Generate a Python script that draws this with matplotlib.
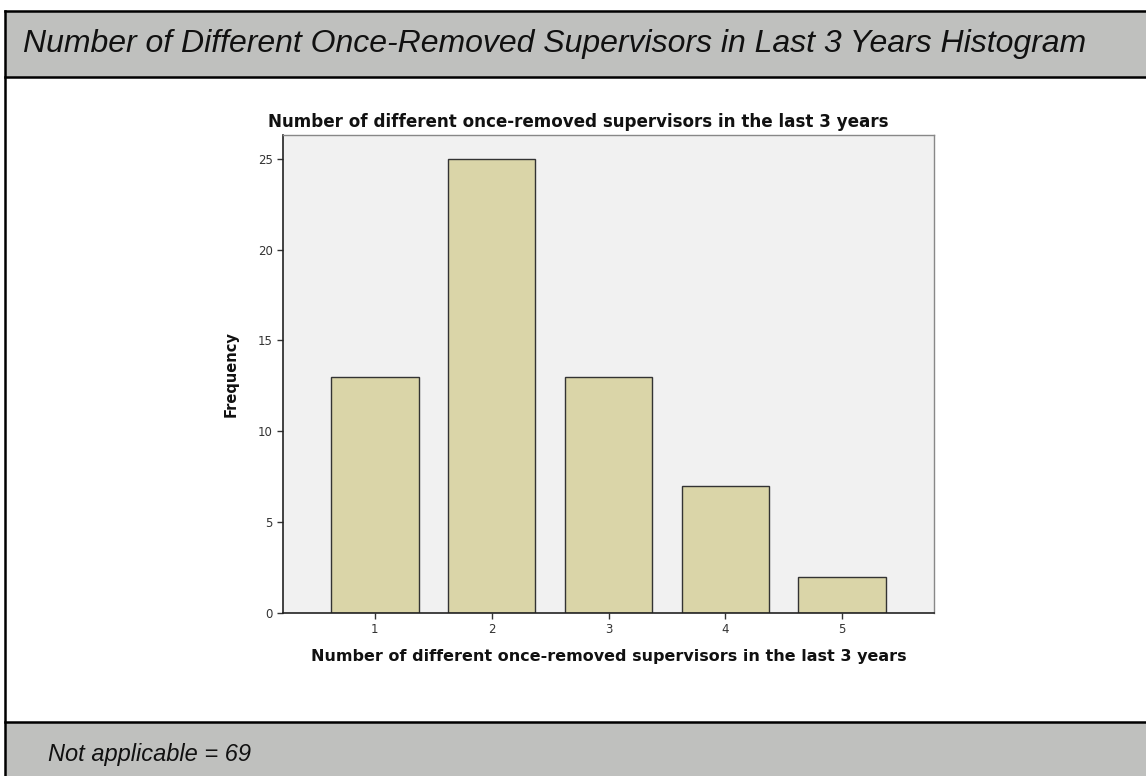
import matplotlib
matplotlib.use("Agg")
import matplotlib.pyplot as plt
from matplotlib.patches import Rectangle
from matplotlib.lines import Line2D

categories = [1, 2, 3, 4, 5]
frequencies = [13, 25, 13, 7, 2]
yticks = [0, 5, 10, 15, 20, 25]

header = "Number of Different Once-Removed Supervisors in Last 3 Years Histogram"
chart_title = "Number of different once-removed supervisors in the last 3 years"
xlabel = "Number of different once-removed supervisors in the last 3 years"
ylabel = "Frequency"
footer = "Not applicable = 69"

W, H = 1146, 776
fig = plt.figure(figsize=(W / 100, H / 100), dpi=100)
fig.patch.set_facecolor("white")

def fx(px):
    return px / W

def fy(py):
    return 1 - py / H

band = "#bfc0be"
fig.add_artist(Rectangle((fx(5), fy(77)), 1, fy(11) - fy(77), transform=fig.transFigure,
                         facecolor=band, edgecolor="none", zorder=0))
fig.add_artist(Rectangle((fx(5), 0), 1, fy(722), transform=fig.transFigure,
                         facecolor=band, edgecolor="none", zorder=0))
for yy in [11, 77, 722]:
    fig.add_artist(Line2D([fx(5), 1], [fy(yy), fy(yy)], transform=fig.transFigure,
                          color="black", lw=1.8, zorder=1))
fig.add_artist(Line2D([fx(5), fx(5)], [0, fy(11)], transform=fig.transFigure,
                      color="black", lw=1.8, zorder=1))

fig.text(fx(23), fy(44), header, fontsize=23, style="italic",
         family=["Liberation Sans", "DejaVu Sans"], va="center", ha="left", color="#111111")
fig.text(fx(48), fy(755), footer, fontsize=17, style="italic",
         family=["Liberation Sans", "DejaVu Sans"], va="center", ha="left", color="#111111")

ax = fig.add_axes([fx(283), fy(613), fx(934) - fx(283), fy(135) - fy(613)])
ax.set_facecolor("#f1f1f1")
ax.bar(categories, frequencies, width=0.75, color="#dad5a8", edgecolor="#333333", linewidth=1.0, zorder=2)
ax.set_xlim(0.214, 5.786)
ax.set_ylim(0, 26.3)
ax.set_xticks(categories)
ax.set_yticks(yticks)
ax.tick_params(axis="both", labelsize=8.5, labelcolor="#333333", length=4, width=1, color="#333333")
for s in ["left", "bottom"]:
    ax.spines[s].set_color("#222222")
    ax.spines[s].set_linewidth(1.2)
for s in ["top", "right"]:
    ax.spines[s].set_color("#888888")
    ax.spines[s].set_linewidth(1.0)

fig.text(fx(578), fy(122), chart_title, fontsize=12.1, fontweight="bold", family="DejaVu Sans",
         ha="center", va="center", color="#111111")
ax.set_xlabel(xlabel, fontsize=11.5, fontweight="bold", family="DejaVu Sans", labelpad=9, color="#111111")
ax.set_ylabel(ylabel, fontsize=10.5, fontweight="bold", family="DejaVu Sans", labelpad=14, color="#111111")

fig.savefig("out.png", dpi=100)
